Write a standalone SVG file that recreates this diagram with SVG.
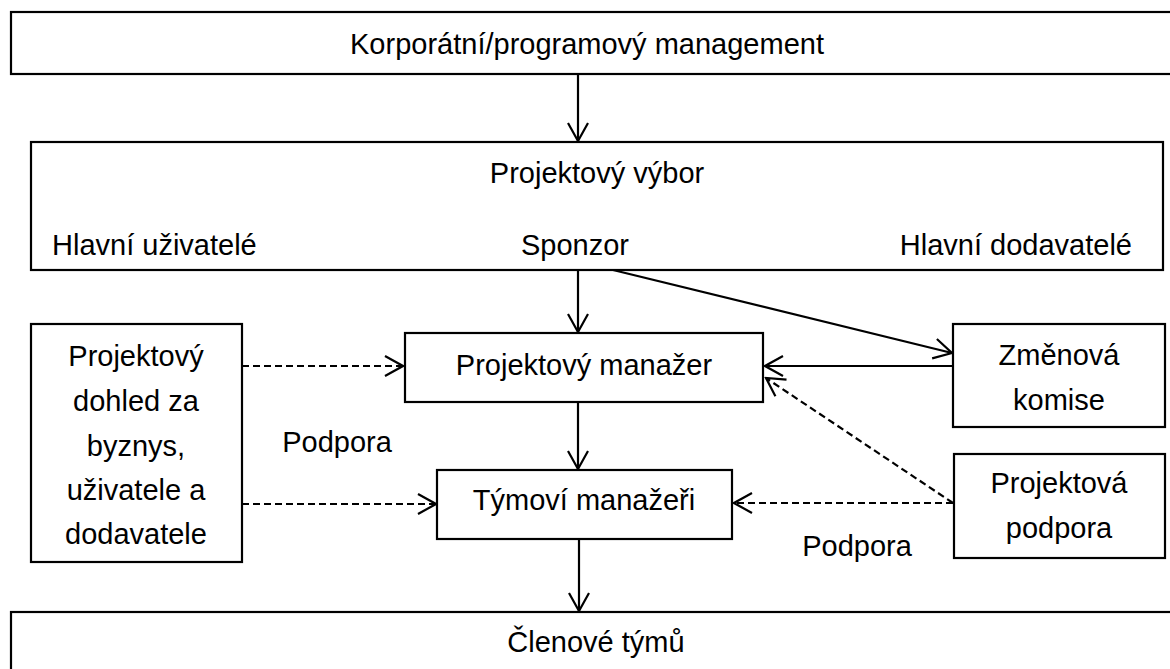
<svg xmlns="http://www.w3.org/2000/svg" width="1170" height="669" viewBox="0 0 1170 669">
<style>
.box{fill:#fff;stroke:#000;stroke-width:2.2}
.t{font-family:"Liberation Sans",Arial,sans-serif;font-size:29px;fill:#000}
.m{text-anchor:middle}
.c{fill:none;stroke:#000;stroke-width:2.2}
.d{stroke-dasharray:7 4}
</style>
<defs>
<marker id="ah" markerUnits="userSpaceOnUse" viewBox="-21 -12 23 24" refX="0" refY="0" markerWidth="23" markerHeight="24" orient="auto">
<path d="M-18,-10 L0,0 L-18,10" fill="none" stroke="#000" stroke-width="2.2" stroke-dasharray="none"/>
</marker>
</defs>
<rect width="1170" height="669" fill="#fff"/>
<g id="corporate">
<rect class="box" x="11" y="12" width="1200" height="62"/>
<text class="t m" x="587" y="54">Korporátní/programový management</text>
</g>
<g id="board">
<rect class="box" x="31" y="142" width="1132" height="128"/>
<text class="t m" x="597" y="183">Projektový výbor</text>
<text class="t" x="52" y="255">Hlavní uživatelé</text>
<text class="t m" x="575" y="255">Sponzor</text>
<text class="t" x="1132" y="255" text-anchor="end">Hlavní dodavatelé</text>
</g>
<g id="assurance">
<rect class="box" x="31" y="324" width="211" height="238"/>
<text class="t m" x="136" y="366">Projektový</text>
<text class="t m" x="136" y="411">dohled za</text>
<text class="t m" x="136" y="456">byznys,</text>
<text class="t m" x="136" y="500">uživatele a</text>
<text class="t m" x="136" y="544">dodavatele</text>
</g>
<g id="pm">
<rect class="box" x="405" y="333" width="358" height="69"/>
<text class="t m" x="584" y="375">Projektový manažer</text>
</g>
<g id="change">
<rect class="box" x="953" y="324" width="212" height="103"/>
<text class="t m" x="1059" y="365">Změnová</text>
<text class="t m" x="1059" y="410">komise</text>
</g>
<g id="tm">
<rect class="box" x="437" y="470" width="295" height="69"/>
<text class="t m" x="584" y="510">Týmoví manažeři</text>
</g>
<g id="support">
<rect class="box" x="954" y="454" width="211" height="104"/>
<text class="t m" x="1059" y="493">Projektová</text>
<text class="t m" x="1059" y="538">podpora</text>
</g>
<g id="team">
<rect class="box" x="11" y="612" width="1200" height="100"/>
<text class="t m" x="596" y="652">Členové týmů</text>
</g>
<g id="labels">
<text class="t m" x="337" y="452">Podpora</text>
<text class="t m" x="857" y="556">Podpora</text>
</g>
<g id="connectors">
<line class="c" x1="578" y1="74" x2="578" y2="141" marker-end="url(#ah)"/>
<line class="c" x1="578" y1="270" x2="578" y2="332" marker-end="url(#ah)"/>
<line class="c" x1="578" y1="402" x2="578" y2="469" marker-end="url(#ah)"/>
<line class="c" x1="579" y1="539" x2="579" y2="611" marker-end="url(#ah)"/>
<line class="c" x1="613" y1="270" x2="952" y2="353" marker-end="url(#ah)"/>
<line class="c" x1="953" y1="366" x2="765" y2="366" marker-end="url(#ah)"/>
<line class="c d" x1="242" y1="366" x2="403" y2="366" marker-end="url(#ah)"/>
<line class="c d" x1="242" y1="504" x2="436" y2="504" marker-end="url(#ah)"/>
<line class="c d" x1="953" y1="503" x2="734" y2="503" marker-end="url(#ah)"/>
<line class="c d" x1="953" y1="503" x2="766" y2="378" marker-end="url(#ah)"/>
</g>
</svg>
